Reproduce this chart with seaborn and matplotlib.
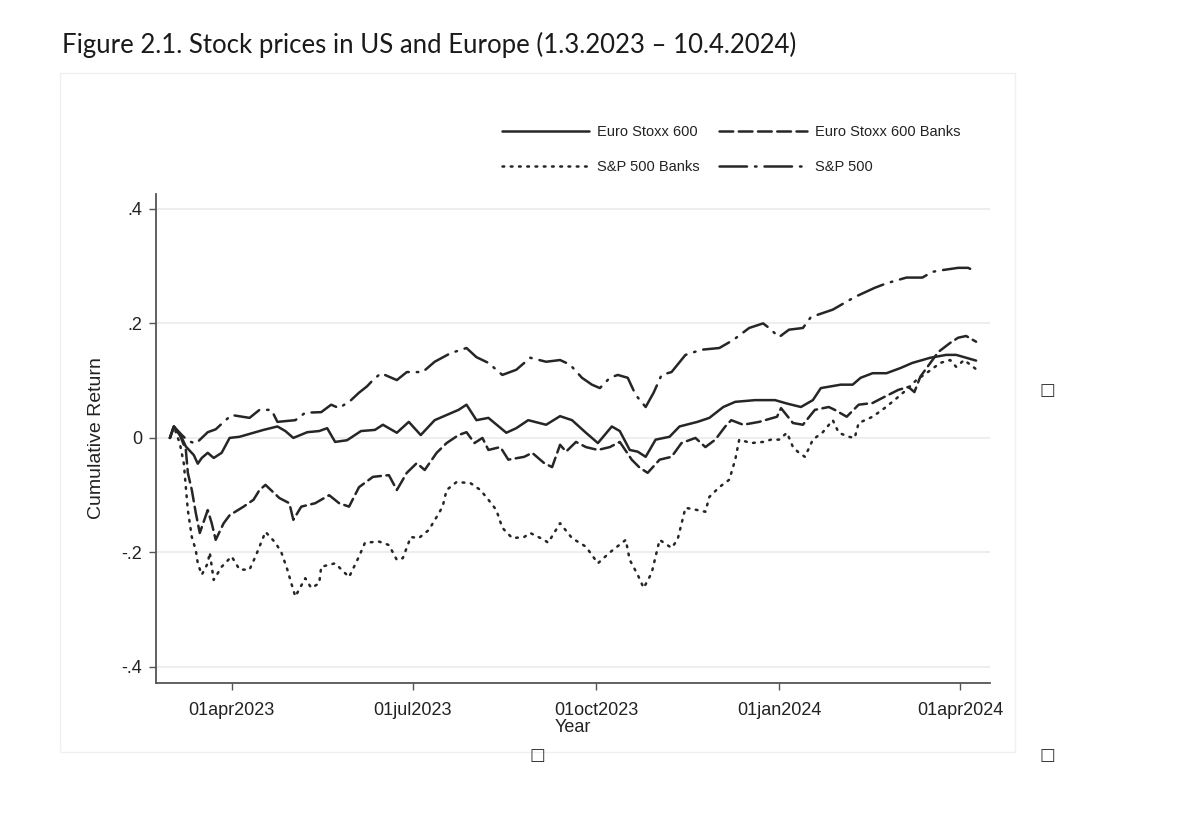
import pandas as pd
import matplotlib
matplotlib.use("Agg")
import matplotlib.pyplot as plt
import matplotlib.dates as mdates
from matplotlib.ticker import FuncFormatter
from matplotlib.patches import Rectangle
import seaborn as sns

# ---- data (cumulative return since 1 Mar 2023) ----
es600_dates = [
    "2023-03-01", "2023-03-03", "2023-03-07", "2023-03-09", "2023-03-13", "2023-03-15",
    "2023-03-17", "2023-03-20", "2023-03-23", "2023-03-27", "2023-03-31", "2023-04-05",
    "2023-04-11", "2023-04-17", "2023-04-24", "2023-04-28", "2023-05-02", "2023-05-09",
    "2023-05-15", "2023-05-19", "2023-05-23", "2023-05-29", "2023-06-05", "2023-06-12",
    "2023-06-16", "2023-06-23", "2023-06-29", "2023-07-05", "2023-07-12", "2023-07-18",
    "2023-07-24", "2023-07-28", "2023-08-02", "2023-08-08", "2023-08-17", "2023-08-22",
    "2023-08-28", "2023-09-06", "2023-09-13", "2023-09-19", "2023-09-26", "2023-10-02",
    "2023-10-09", "2023-10-13", "2023-10-18", "2023-10-22", "2023-10-26", "2023-10-31",
    "2023-11-07", "2023-11-12", "2023-11-21", "2023-11-27", "2023-12-04", "2023-12-10",
    "2023-12-20", "2023-12-30", "2024-01-05", "2024-01-12", "2024-01-18", "2024-01-22",
    "2024-02-01", "2024-02-07", "2024-02-11", "2024-02-17", "2024-02-24", "2024-03-02",
    "2024-03-08", "2024-03-17", "2024-03-25", "2024-03-30", "2024-04-04", "2024-04-09",
]
es600 = [
    0.000, 0.020, 0.000, -0.015, -0.030, -0.045,
    -0.035, -0.026, -0.035, -0.026, 0.000, 0.002,
    0.008, 0.014, 0.020, 0.012, 0.000, 0.010,
    0.012, 0.017, -0.007, -0.004, 0.012, 0.014,
    0.023, 0.009, 0.028, 0.005, 0.031, 0.040,
    0.049, 0.058, 0.031, 0.035, 0.009, 0.017,
    0.031, 0.023, 0.038, 0.031, 0.009, -0.009,
    0.020, 0.012, -0.021, -0.024, -0.033, -0.003,
    0.002, 0.020, 0.028, 0.035, 0.054, 0.063,
    0.066, 0.066, 0.060, 0.054, 0.066, 0.087,
    0.093, 0.093, 0.105, 0.113, 0.113, 0.122,
    0.131, 0.140, 0.145, 0.145, 0.140, 0.135,
]

es_banks_dates = [
    "2023-03-01", "2023-03-03", "2023-03-06", "2023-03-09", "2023-03-10", "2023-03-12",
    "2023-03-14", "2023-03-16", "2023-03-20", "2023-03-22", "2023-03-24", "2023-03-28",
    "2023-03-31", "2023-04-07", "2023-04-12", "2023-04-15", "2023-04-18", "2023-04-25",
    "2023-04-30", "2023-05-02", "2023-05-06", "2023-05-13", "2023-05-20", "2023-05-25",
    "2023-05-30", "2023-06-04", "2023-06-11", "2023-06-19", "2023-06-23", "2023-06-28",
    "2023-07-03", "2023-07-07", "2023-07-13", "2023-07-18", "2023-07-24", "2023-07-28",
    "2023-08-01", "2023-08-05", "2023-08-08", "2023-08-14", "2023-08-18", "2023-08-26",
    "2023-08-30", "2023-09-05", "2023-09-09", "2023-09-13", "2023-09-16", "2023-09-21",
    "2023-09-26", "2023-10-02", "2023-10-08", "2023-10-13", "2023-10-19", "2023-10-23",
    "2023-10-27", "2023-11-02", "2023-11-08", "2023-11-13", "2023-11-20", "2023-11-25",
    "2023-11-30", "2023-12-05", "2023-12-08", "2023-12-14", "2023-12-22", "2023-12-31",
    "2024-01-02", "2024-01-08", "2024-01-13", "2024-01-19", "2024-01-26", "2024-01-29",
    "2024-02-04", "2024-02-10", "2024-02-17", "2024-02-22", "2024-03-01", "2024-03-06",
    "2024-03-09", "2024-03-12", "2024-03-21", "2024-03-27", "2024-03-31", "2024-04-04",
    "2024-04-09",
]
es_banks = [
    0.000, 0.020, 0.005, -0.021, -0.061, -0.091,
    -0.131, -0.166, -0.126, -0.149, -0.178, -0.149,
    -0.135, -0.120, -0.108, -0.091, -0.082, -0.105,
    -0.114, -0.143, -0.120, -0.114, -0.100, -0.114,
    -0.120, -0.086, -0.068, -0.065, -0.091, -0.061,
    -0.044, -0.056, -0.026, -0.009, 0.005, 0.010,
    -0.009, 0.000, -0.021, -0.016, -0.038, -0.033,
    -0.026, -0.044, -0.051, -0.012, -0.024, -0.007,
    -0.016, -0.021, -0.016, -0.007, -0.038, -0.052,
    -0.061, -0.038, -0.033, -0.009, 0.000, -0.016,
    -0.003, 0.020, 0.031, 0.023, 0.028, 0.037,
    0.052, 0.026, 0.023, 0.049, 0.054, 0.049,
    0.037, 0.058, 0.061, 0.070, 0.084, 0.089,
    0.080, 0.107, 0.150, 0.166, 0.175, 0.178,
    0.168,
]

sp_banks_dates = [
    "2023-03-01", "2023-03-03", "2023-03-06", "2023-03-08", "2023-03-09", "2023-03-10",
    "2023-03-12", "2023-03-14", "2023-03-15", "2023-03-17", "2023-03-20", "2023-03-21",
    "2023-03-23", "2023-03-27", "2023-04-01", "2023-04-05", "2023-04-10", "2023-04-13",
    "2023-04-18", "2023-04-23", "2023-04-26", "2023-04-29", "2023-05-01", "2023-05-03",
    "2023-05-08", "2023-05-11", "2023-05-15", "2023-05-16", "2023-05-23", "2023-05-30",
    "2023-06-04", "2023-06-07", "2023-06-14", "2023-06-19", "2023-06-23", "2023-06-26",
    "2023-06-30", "2023-07-04", "2023-07-09", "2023-07-13", "2023-07-16", "2023-07-18",
    "2023-07-23", "2023-07-30", "2023-08-04", "2023-08-08", "2023-08-12", "2023-08-15",
    "2023-08-20", "2023-08-26", "2023-08-29", "2023-09-05", "2023-09-07", "2023-09-13",
    "2023-09-19", "2023-09-26", "2023-10-02", "2023-10-08", "2023-10-16", "2023-10-18",
    "2023-10-22", "2023-10-25", "2023-10-29", "2023-11-02", "2023-11-08", "2023-11-11",
    "2023-11-15", "2023-11-21", "2023-11-25", "2023-11-27", "2023-12-02", "2023-12-07",
    "2023-12-10", "2023-12-12", "2023-12-18", "2023-12-24", "2023-12-28", "2024-01-01",
    "2024-01-05", "2024-01-08", "2024-01-11", "2024-01-14", "2024-01-18", "2024-01-23",
    "2024-01-28", "2024-01-31", "2024-02-05", "2024-02-08", "2024-02-10", "2024-02-17",
    "2024-02-23", "2024-02-28", "2024-03-05", "2024-03-10", "2024-03-15", "2024-03-22",
    "2024-03-27", "2024-03-30", "2024-04-03", "2024-04-09",
]
sp_banks = [
    0.000, 0.020, -0.010, -0.045, -0.086, -0.126,
    -0.173, -0.196, -0.219, -0.239, -0.219, -0.200,
    -0.248, -0.225, -0.207, -0.230, -0.230, -0.207,
    -0.164, -0.183, -0.200, -0.230, -0.254, -0.277,
    -0.245, -0.262, -0.254, -0.225, -0.219, -0.243,
    -0.207, -0.183, -0.181, -0.187, -0.213, -0.210,
    -0.173, -0.175, -0.161, -0.138, -0.120, -0.091,
    -0.077, -0.079, -0.091, -0.108, -0.126, -0.157,
    -0.175, -0.173, -0.166, -0.178, -0.183, -0.149,
    -0.175, -0.190, -0.219, -0.200, -0.178, -0.213,
    -0.239, -0.262, -0.236, -0.178, -0.192, -0.178,
    -0.122, -0.126, -0.129, -0.103, -0.086, -0.073,
    -0.038, -0.003, -0.009, -0.007, -0.003, -0.003,
    0.009, -0.016, -0.026, -0.033, -0.003, 0.010,
    0.031, 0.009, 0.002, 0.000, 0.026, 0.037,
    0.052, 0.066, 0.084, 0.101, 0.113, 0.131,
    0.136, 0.124, 0.136, 0.120,
]

sp500_dates = [
    "2023-03-01", "2023-03-03", "2023-03-07", "2023-03-10", "2023-03-14", "2023-03-17",
    "2023-03-20", "2023-03-24", "2023-03-29", "2023-04-01", "2023-04-10", "2023-04-15",
    "2023-04-21", "2023-04-24", "2023-05-03", "2023-05-08", "2023-05-16", "2023-05-21",
    "2023-05-25", "2023-05-31", "2023-06-04", "2023-06-08", "2023-06-11", "2023-06-15",
    "2023-06-23", "2023-06-28", "2023-07-06", "2023-07-12", "2023-07-20", "2023-07-28",
    "2023-08-02", "2023-08-08", "2023-08-15", "2023-08-22", "2023-08-29", "2023-09-06",
    "2023-09-13", "2023-09-18", "2023-09-24", "2023-09-29", "2023-10-03", "2023-10-08",
    "2023-10-12", "2023-10-17", "2023-10-21", "2023-10-26", "2023-10-30", "2023-11-03",
    "2023-11-08", "2023-11-15", "2023-11-23", "2023-12-02", "2023-12-09", "2023-12-17",
    "2023-12-24", "2023-12-27", "2024-01-01", "2024-01-06", "2024-01-13", "2024-01-17",
    "2024-01-28", "2024-02-03", "2024-02-08", "2024-02-18", "2024-02-24", "2024-03-05",
    "2024-03-13", "2024-03-18", "2024-03-23", "2024-03-31", "2024-04-05", "2024-04-09",
]
sp500 = [
    0.000, 0.020, 0.005, -0.005, -0.010, 0.000,
    0.010, 0.015, 0.031, 0.040, 0.035, 0.049,
    0.049, 0.028, 0.031, 0.044, 0.045, 0.058,
    0.052, 0.066, 0.079, 0.090, 0.101, 0.113,
    0.101, 0.115, 0.115, 0.133, 0.148, 0.157,
    0.141, 0.131, 0.110, 0.119, 0.140, 0.133,
    0.136, 0.128, 0.105, 0.093, 0.087, 0.105,
    0.110, 0.105, 0.075, 0.054, 0.079, 0.110,
    0.115, 0.145, 0.154, 0.157, 0.171, 0.192,
    0.200, 0.192, 0.176, 0.189, 0.192, 0.211,
    0.224, 0.236, 0.246, 0.262, 0.270, 0.280,
    0.280, 0.290, 0.293, 0.297, 0.297, 0.290,
]

series_names = ["Euro Stoxx 600", "S&P 500 Banks", "Euro Stoxx 600 Banks", "S&P 500"]
x_ticks = ["2023-04-01", "2023-07-01", "2023-10-01", "2024-01-01", "2024-04-01"]
y_ticks = [-0.4, -0.2, 0.0, 0.2, 0.4]
y_ticklabels = ["-.4", "-.2", "0", ".2", ".4"]

frames = []
for name, d, v in [
    ("Euro Stoxx 600", es600_dates, es600),
    ("Euro Stoxx 600 Banks", es_banks_dates, es_banks),
    ("S&P 500 Banks", sp_banks_dates, sp_banks),
    ("S&P 500", sp500_dates, sp500),
]:
    frames.append(pd.DataFrame({"date": pd.to_datetime(d), "ret": v, "series": name}))
df = pd.concat(frames, ignore_index=True)

sns.set_theme(style="white")
plt.rcParams["font.family"] = ["Liberation Sans", "DejaVu Sans"]

fig = plt.figure(figsize=(11.98, 8.24), dpi=100)
ax = fig.add_axes([0.1302, 0.1711, 0.6962, 0.5935])

line_col = "#262626"
dash_map = {
    "Euro Stoxx 600": "",
    "Euro Stoxx 600 Banks": (5.5, 2.2),
    "S&P 500 Banks": (0.7, 2.6),
    "S&P 500": (11.0, 3.2, 0.6, 3.2),
}
sns.lineplot(
    data=df, x="date", y="ret", hue="series", style="series",
    hue_order=series_names, style_order=series_names,
    palette={n: line_col for n in series_names},
    dashes=dash_map, linewidth=1.8, sort=True, estimator=None,
    ax=ax, legend=True,
)
for ln in ax.get_lines():
    ln.set_dash_capstyle("round")

ax.set_xlim(pd.Timestamp("2023-02-22"), pd.Timestamp("2024-04-16"))
ax.set_ylim(-0.428, 0.426)
ax.set_yticks(y_ticks)
ax.set_yticklabels(y_ticklabels)
ax.set_xticks(pd.to_datetime(x_ticks))
ax.xaxis.set_major_formatter(FuncFormatter(lambda x, p: mdates.num2date(x).strftime("%d%b%Y").lower()))

ax.grid(axis="y", color="#ebebeb", linewidth=1.2)
ax.grid(axis="x", visible=False)
for s in ["top", "right"]:
    ax.spines[s].set_visible(False)
for s in ["left", "bottom"]:
    ax.spines[s].set_color("#555555")
    ax.spines[s].set_linewidth(1.3)
ax.tick_params(axis="both", which="major", direction="out", length=5, width=1,
               color="#555555", labelsize=13, labelcolor="#222222", pad=5,
               left=True, bottom=True)
ax.tick_params(axis="x", pad=9)

ax.set_xlabel("Year", fontsize=13, color="#222222", labelpad=0)
ax.set_ylabel("Cumulative Return", fontsize=14, color="#222222", labelpad=12)

handles, labels = ax.get_legend_handles_labels()
ax.get_legend().remove()
lookup = dict(zip(labels, handles))
fig.legend(
    [lookup[n] for n in series_names], series_names,
    loc="upper left", bbox_to_anchor=(0.408, 0.864), ncol=2, frameon=False,
    fontsize=10.5, handlelength=6.0, handletextpad=0.55, columnspacing=1.3,
    labelspacing=1.45, labelcolor="#222222",
)

# faint outline of the embedded chart image
fig.patches.append(Rectangle((60 / 1198, 1 - 752 / 824), 955 / 1198, 679 / 824,
                             transform=fig.transFigure, fill=False,
                             edgecolor="#f0f0f0", linewidth=1))

fig.text(62 / 1198, 1 - 45 / 824,
         "Figure 2.1. Stock prices in US and Europe (1.3.2023 \u2013 10.4.2024)",
         fontsize=18.5, family=["Lato", "DejaVu Sans"], color="#1a1a1a", va="center", ha="left")

for px, py in [(1047, 390), (537, 755), (1047, 755)]:
    fig.text(px / 1198, 1 - py / 824, "\u25a1", fontsize=12, family="DejaVu Sans",
             color="#333333", ha="center", va="center")

fig.savefig("out.png", dpi=100)
